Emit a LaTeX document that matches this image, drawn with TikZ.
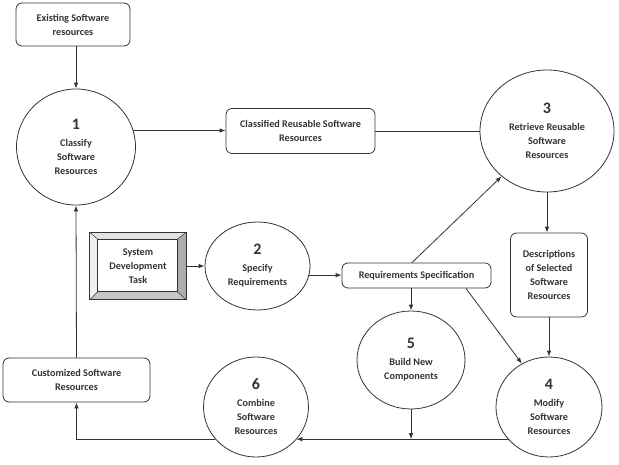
\documentclass[tikz,border=0pt]{standalone}
\usepackage{fontspec}
\setmainfont{Carlito}
\usetikzlibrary{arrows.meta,shapes.geometric,calc}
\newcommand\pnum[1]{{\fontsize{16}{18}\selectfont\bfseries #1}\\[3pt]}
\begin{document}
\begin{tikzpicture}[x=1pt,y=-1pt,
  every node/.style={font=\fontsize{10.2}{14}\selectfont\bfseries, text=black!80},
  proc/.style={ellipse, draw=black!80, line width=0.8pt, inner sep=0pt, align=center},
  store/.style={draw=black!80, line width=0.8pt, rounded corners=6pt, align=center, inner sep=0pt},
  arr/.style={-{Latex[length=6pt,width=4.5pt]}, line width=0.8pt, draw=black!80},
  ln/.style={line width=0.8pt, draw=black!80}
]
\useasboundingbox (0,0) rectangle (619,464);

% nodes
\node[store, minimum width=114, minimum height=43] (ex) at (73,24.5) {Existing Software\\resources};
\node[proc, minimum width=119, minimum height=116] (c1) at (76,147) {\pnum{1}Classify\\Software\\Resources};
\node[store, minimum width=149, minimum height=45] (cl) at (300.5,131) {Classified Reusable Software\\Resources};
\node[proc, minimum width=134, minimum height=122] (c3) at (547,131) {\pnum{3}Retrieve Reusable\\Software\\Resources};
\node[store, minimum width=77, minimum height=84] (de) at (549,275) {Descriptions\\of Selected\\Software\\Resources};
\node[store, minimum width=149, minimum height=25] (rs) at (416.5,275.5) {Requirements Specification};
\node[proc, minimum width=108, minimum height=98] (c5) at (411,360) {\pnum{5}Build New\\Components};
\node[proc, minimum width=106, minimum height=100] (c4) at (549,407) {\pnum{4}Modify\\Software\\Resources};
\node[proc, minimum width=105, minimum height=100] (c6) at (256,407) {\pnum{6}Combine\\Software\\Resources};
\node[store, minimum width=147, minimum height=44] (cu) at (76.5,380) {Customized Software\\Resources};
\node[proc, minimum width=105, minimum height=88] (c2) at (257.5,266) {\pnum{2}Specify\\Requirements};

% bevelled box
\node[minimum width=96, minimum height=67, inner sep=0pt] (sdt) at (138,266) {};
\path (sdt.north west) ++(8,7) coordinate (i1);
\path (sdt.north east) ++(-9,7) coordinate (i2);
\path (sdt.south east) ++(-9,-8) coordinate (i3);
\path (sdt.south west) ++(8,-8) coordinate (i4);
\fill[gray!22] (sdt.north west) -- (sdt.north east) -- (i2) -- (i1) -- cycle;
\fill[gray!12] (sdt.north west) -- (i1) -- (i4) -- (sdt.south west) -- cycle;
\fill[gray!65] (sdt.north east) -- (sdt.south east) -- (i3) -- (i2) -- cycle;
\fill[gray!45] (sdt.south west) -- (i4) -- (i3) -- (sdt.south east) -- cycle;
\draw[ln] (sdt.north west) rectangle (sdt.south east);
\draw[ln] (i1) rectangle (i3);
\draw[ln, line width=0.5pt] (sdt.north west) -- (i1) (sdt.north east) -- (i2) (sdt.south east) -- (i3) (sdt.south west) -- (i4);
\node[align=center] (sdtt) at (sdt) {System\\Development\\Task};

% connectors
\draw[arr] (c1.north |- ex.south) -- (c1.north);
\draw[arr] (c1.16) -- (c1.16 -| cl.west);
\draw[ln] (cl.east) -- (c3.west);
\coordinate (rsa) at ($(rs.north west)!0.47!(rs.north east)$);
\draw[arr] (rsa) -- (c3.225);
\draw[arr] (c3.south) -- (c3.south |- de.north);
\draw[arr] (de.south) -- (c4.north);
\draw[arr] (c5.north |- rs.south) -- (c5.north);
\coordinate (rsb) at ($(rs.south west)!0.83!(rs.south east)$);
\draw[arr] (rsb) -- (c4.122);
\draw[arr] (c4.218) -- (c4.218 -| c6.321);
\coordinate (jn) at (c5.south |- c4.218);
\draw[arr] (c5.south) -- (jn);
\draw[arr] (c6.218) -| (cu.south);
\draw[arr] (cu.north) -- (c1.south);
\draw[arr] (sdt.east) -- (c2.west);
\draw[arr] (c2.350) -- (c2.350 -| rs.west);
\end{tikzpicture}
\end{document}
